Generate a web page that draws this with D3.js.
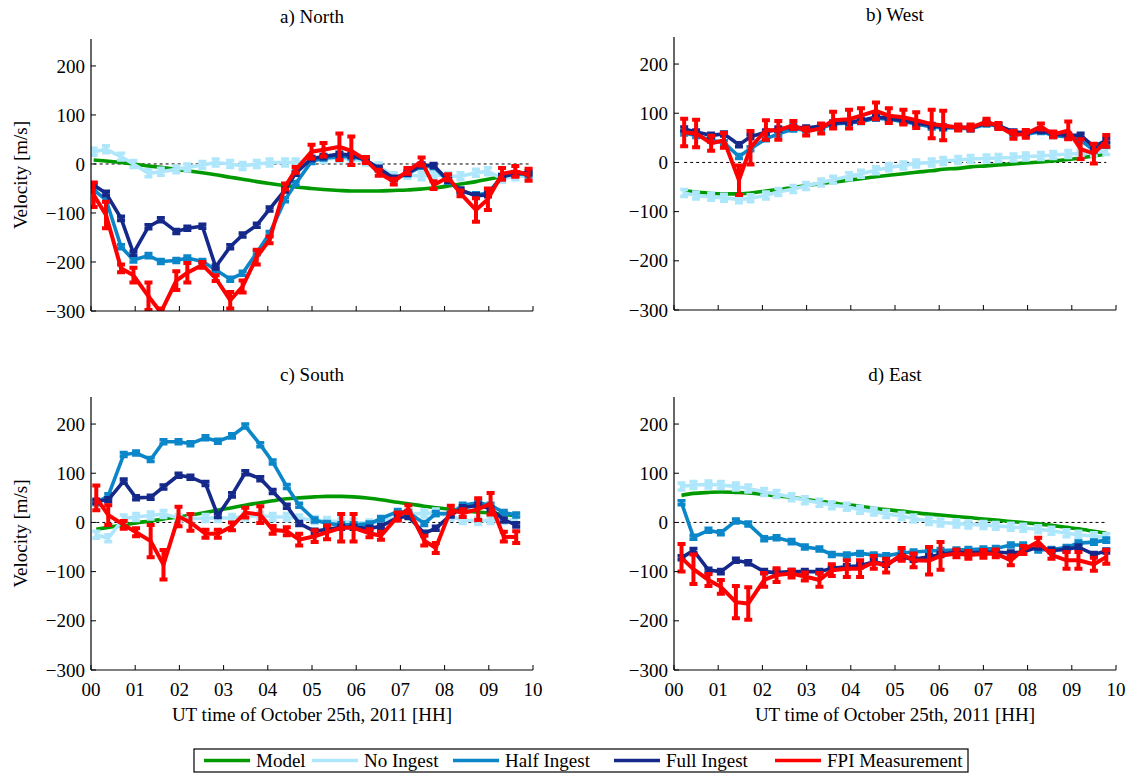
<!DOCTYPE html>
<html>
<head>
<meta charset="utf-8">
<script src="https://cdn.jsdelivr.net/npm/d3@7"></script>
<style>
  html, body { margin: 0; padding: 0; background: #fff; }
  svg text { font-family: "Liberation Serif", "Times New Roman", Times, serif; fill: #000; }
</style>
</head>
<body>
<svg id="chart" width="1137" height="774" font-family="Liberation Serif, Times New Roman, serif"></svg>
<script>
// ---- Series names and colours ----
const seriesNames = ["Model", "No Ingest", "Half Ingest", "Full Ingest", "FPI Measurement"];
const seriesColors = ["#009a00", "#aee6fb", "#0a86c9", "#15298a", "#ff0000"];

// ---- Axis ticks ----
const yTicks = [-300, -200, -100, 0, 100, 200];
const xTicks = [0, 1, 2, 3, 4, 5, 6, 7, 8, 9, 10];
const xTickLabels = ["00", "01", "02", "03", "04", "05", "06", "07", "08", "09", "10"];

// ---- Panel titles ----
const panelTitles = ["a) North", "b) West", "c) South", "d) East"];

// ---- a) North ----
const northTime = [0.06, 0.34, 0.68, 0.96, 1.30, 1.58, 1.93, 2.18, 2.52, 2.82, 3.15, 3.43, 3.75, 4.04, 4.39, 4.63, 4.99, 5.26, 5.62, 5.89, 6.22, 6.51, 6.85, 7.16, 7.48, 7.75, 8.08, 8.36, 8.71, 8.98, 9.30, 9.60, 9.90];
const northModel = [8, 6, 3, 0, -4, -7, -11, -14, -18, -22, -27, -31, -36, -40, -44, -47, -50, -52, -54, -55, -55, -55, -54, -53, -51, -49, -45, -41, -36, -31, -26, -22, -18];
const northNoIngest = [25, 30, 15, 0, -19, -16, -11, -7, -2, 3, 0, -4, 0, 3, 3, 3, 8, 10, 12, 10, 5, -5, -25, -22, -25, -22, -25, -25, -18, -15, -30, -25, -25];
const northHalf = [-53, -73, -169, -196, -187, -199, -197, -192, -199, -216, -235, -223, -181, -142, -73, -40, 5, 12, 15, 15, 8, -10, -30, -20, -5, -5, -35, -55, -63, -60, -25, -20, -22];
const northFull = [-43, -60, -111, -182, -128, -114, -138, -131, -127, -210, -169, -145, -125, -92, -53, -19, 11, 15, 20, 18, 8, -9, -29, -19, -2, -3, -33, -53, -65, -63, -26, -20, -18];
const northFpi = [-63, -104, -213, -227, -270, -303, -238, -222, -206, -233, -278, -250, -190, -155, -46, -12, 25, 29, 35, 27, 8, -18, -36, -14, 5, -43, -27, -60, -94, -72, -20, -15, -22];
const northFpiErr = [25, 27, 8, 15, 28, 8, 19, 20, 6, 6, 17, 12, 15, 7, 6, 6, 14, 14, 27, 29, 6, 6, 6, 6, 8, 8, 6, 6, 24, 22, 12, 11, 12];

// ---- b) West ----
const westTime = [0.23, 0.50, 0.84, 1.13, 1.47, 1.73, 2.08, 2.36, 2.70, 2.99, 3.33, 3.60, 3.96, 4.23, 4.57, 4.86, 5.19, 5.48, 5.83, 6.09, 6.43, 6.71, 7.07, 7.34, 7.68, 7.96, 8.30, 8.58, 8.92, 9.20, 9.50, 9.78];
const westModel = [-57, -60, -63, -64, -64, -62, -58, -55, -51, -47, -43, -40, -36, -33, -29, -26, -23, -20, -17, -14, -12, -9, -7, -5, -3, -1, 1, 3, 6, 9, 13, 17];
const westNoIngest = [-62, -67, -70, -72, -75, -73, -67, -60, -54, -48, -41, -35, -28, -23, -16, -10, -6, -2, 0, 3, 5, 7, 8, 9, 10, 12, 13, 15, 17, 18, 20, 23];
const westHalf = [60, 55, 45, 40, 12, 28, 48, 58, 68, 66, 70, 78, 80, 83, 90, 88, 83, 78, 72, 70, 70, 68, 78, 73, 58, 57, 63, 55, 52, 45, 25, 35];
const westFull = [68, 62, 55, 58, 36, 52, 62, 68, 72, 70, 74, 80, 82, 85, 92, 90, 85, 80, 75, 72, 72, 70, 80, 75, 62, 60, 65, 58, 55, 55, 32, 45];
const westFpi = [61, 59, 39, 45, -36, 30, 66, 65, 76, 63, 69, 86, 88, 95, 105, 95, 92, 86, 78, 75, 71, 71, 83, 74, 56, 58, 73, 57, 65, 27, 18, 44];
const westFpiErr = [28, 28, 15, 15, 30, 34, 20, 19, 8, 8, 10, 17, 19, 15, 17, 15, 15, 16, 29, 30, 6, 6, 6, 6, 8, 8, 6, 6, 18, 20, 20, 12];

// ---- c) South ----
const southTime = [0.12, 0.39, 0.74, 1.02, 1.35, 1.64, 1.98, 2.25, 2.59, 2.87, 3.19, 3.49, 3.83, 4.11, 4.43, 4.71, 5.06, 5.34, 5.66, 5.94, 6.30, 6.56, 6.94, 7.18, 7.54, 7.80, 8.14, 8.41, 8.76, 9.04, 9.34, 9.62];
const southModel = [-14, -10, -5, -1, 3, 7, 11, 15, 20, 25, 30, 35, 40, 44, 48, 50, 52, 53, 53, 52, 49, 46, 41, 38, 33, 30, 27, 24, 21, 19, 16, 14];
const southNoIngest = [-25, -32, 8, 11, 14, 17, 9, 7, 9, 9, 9, 12, 14, 11, 11, 8, 5, 3, 2, 0, -2, 2, 10, 18, 18, 20, 12, 5, 3, 5, 5, 5];
const southHalf = [40, 54, 138, 141, 128, 164, 164, 160, 172, 165, 176, 196, 158, 123, 73, 35, 5, -2, -5, -5, -3, 8, 22, 20, -2, 18, 18, 35, 40, 35, 20, 15];
const southFull = [43, 46, 84, 50, 51, 72, 96, 92, 79, 14, 56, 101, 89, 63, 33, -2, -18, -14, -10, -10, -12, -8, 10, 12, -22, -12, 15, 30, 35, 28, 5, -5];
const southFpi = [50, 15, -5, -20, -38, -86, 12, 0, -23, -23, -8, 20, 16, -15, -18, -35, -28, -20, -11, -11, -22, -27, 12, 27, -37, -52, 26, 19, 27, 38, -29, -30];
const southFpiErr = [25, 20, 8, 8, 33, 30, 20, 17, 8, 8, 8, 10, 17, 8, 8, 12, 12, 14, 28, 28, 8, 8, 8, 8, 10, 10, 8, 8, 22, 22, 10, 12];

// ---- d) East ----
const eastTime = [0.17, 0.44, 0.78, 1.06, 1.40, 1.68, 2.04, 2.32, 2.66, 2.96, 3.29, 3.57, 3.91, 4.21, 4.52, 4.80, 5.15, 5.42, 5.77, 6.03, 6.39, 6.66, 7.00, 7.28, 7.62, 7.90, 8.24, 8.54, 8.88, 9.15, 9.50, 9.78];
const eastModel = [55, 59, 61, 62, 61, 60, 57, 54, 51, 47, 43, 40, 36, 33, 29, 26, 23, 20, 17, 15, 12, 10, 7, 5, 2, 0, -3, -6, -10, -13, -18, -22];
const eastNoIngest = [73, 76, 77, 76, 73, 69, 62, 58, 51, 45, 40, 35, 32, 26, 22, 17, 13, 8, 3, 0, -2, -4, -5, -7, -9, -11, -14, -17, -22, -25, -28, -30];
const eastHalf = [40, -30, -16, -21, 3, -3, -33, -31, -39, -50, -54, -65, -66, -63, -66, -68, -62, -60, -58, -57, -56, -55, -54, -53, -46, -46, -56, -55, -51, -42, -40, -36];
const eastFull = [-72, -57, -97, -100, -77, -82, -100, -102, -100, -100, -100, -93, -90, -88, -80, -85, -70, -75, -70, -65, -60, -62, -60, -60, -62, -60, -50, -57, -55, -50, -65, -58];
const eastFpi = [-72, -95, -117, -131, -162, -165, -117, -107, -104, -110, -117, -97, -94, -94, -81, -88, -65, -77, -78, -68, -63, -66, -64, -63, -77, -56, -39, -66, -77, -77, -85, -70];
const eastFpiErr = [28, 30, 12, 14, 33, 33, 14, 14, 8, 8, 14, 12, 17, 17, 13, 14, 13, 14, 28, 28, 8, 8, 8, 8, 10, 8, 8, 8, 17, 17, 13, 14];

// Half-length of the error bars on the assimilated (ingest) runs
const ingestErr = [7, 4, 4];

const panelData = [
  { time: northTime, model: northModel, runs: [northNoIngest, northHalf, northFull], fpi: northFpi, err: northFpiErr },
  { time: westTime,  model: westModel,  runs: [westNoIngest,  westHalf,  westFull],  fpi: westFpi,  err: westFpiErr },
  { time: southTime, model: southModel, runs: [southNoIngest, southHalf, southFull], fpi: southFpi, err: southFpiErr },
  { time: eastTime,  model: eastModel,  runs: [eastNoIngest,  eastHalf,  eastFull],  fpi: eastFpi,  err: eastFpiErr }
];

// ---- Layout ----
const boxes = [
  { left: 91,  right: 533,  top: 39,  bottom: 311 },
  { left: 674, right: 1116, top: 37,  bottom: 310 },
  { left: 91,  right: 533,  top: 397, bottom: 670 },
  { left: 674, right: 1116, top: 397, bottom: 670 }
];
const yDomain = [-300, 255];
const fontFamily = "Liberation Serif, Times New Roman, serif";
const fontSize = 19;
const capHalf = 4;

const svg = d3.select("#chart");
const fmt = d3.format("d");

function label(sel) {
  return sel.attr("font-family", fontFamily).attr("font-size", fontSize).attr("fill", "#000");
}

panelData.forEach((p, i) => {
  const b = boxes[i];
  const x = d3.scaleLinear().domain([0, 10]).range([b.left, b.right]);
  const y = d3.scaleLinear().domain(yDomain).range([b.bottom, b.top]);
  const g = svg.append("g");

  const clipId = "clip" + i;
  g.append("clipPath").attr("id", clipId)
    .append("rect")
    .attr("x", b.left).attr("y", b.top)
    .attr("width", b.right - b.left).attr("height", b.bottom - b.top);

  const plot = g.append("g").attr("clip-path", `url(#${clipId})`);

  // zero reference
  plot.append("line")
    .attr("x1", x(p.time[0])).attr("x2", x(p.time[p.time.length - 1]))
    .attr("y1", y(0)).attr("y2", y(0))
    .attr("stroke", "#000").attr("stroke-width", 1)
    .attr("stroke-dasharray", "3,3");

  const line = d3.line().x(d => x(d[0])).y(d => y(d[1]));

  // model curve
  plot.append("path")
    .datum(p.time.map((t, k) => [t, p.model[k]]))
    .attr("d", d3.line().curve(d3.curveMonotoneX).x(d => x(d[0])).y(d => y(d[1])))
    .attr("fill", "none").attr("stroke", seriesColors[0])
    .attr("stroke-width", 3.6).attr("stroke-linejoin", "round");

  function errorSeries(values, errs, color, width) {
    const pts = p.time.map((t, k) => [t, values[k], errs[k]]);
    plot.append("path").datum(pts)
      .attr("d", line)
      .attr("fill", "none").attr("stroke", color)
      .attr("stroke-width", width).attr("stroke-linejoin", "miter");
    const eb = plot.append("g").attr("stroke", color).attr("stroke-width", width)
      .attr("fill", "none");
    eb.selectAll("path").data(pts).join("path")
      .attr("d", d => {
        const cx = x(d[0]), y1 = y(d[1] + d[2]), y2 = y(d[1] - d[2]);
        return `M${cx},${y1}V${y2}M${cx - capHalf},${y1}H${cx + capHalf}M${cx - capHalf},${y2}H${cx + capHalf}`;
      });
  }

  p.runs.forEach((vals, r) => {
    errorSeries(vals, vals.map(() => ingestErr[r]), seriesColors[r + 1], 3.6);
  });
  errorSeries(p.fpi, p.err, seriesColors[4], 4);

  // axes (left and bottom spines, ticks pointing inward)
  g.append("line").attr("x1", b.left).attr("x2", b.left).attr("y1", b.top).attr("y2", b.bottom)
    .attr("stroke", "#000").attr("stroke-width", 1.2);
  g.append("line").attr("x1", b.left).attr("x2", b.right).attr("y1", b.bottom).attr("y2", b.bottom)
    .attr("stroke", "#000").attr("stroke-width", 1.2);

  g.selectAll(".yt").data(yTicks).join("line")
    .attr("x1", b.left).attr("x2", b.left + 5)
    .attr("y1", d => y(d)).attr("y2", d => y(d))
    .attr("stroke", "#000").attr("stroke-width", 1);
  g.selectAll(".yl").data(yTicks).join("text")
    .call(label)
    .attr("x", b.left - 6).attr("y", d => y(d)).attr("dy", "0.35em")
    .attr("text-anchor", "end")
    .text(d => fmt(d));

  g.selectAll(".xt").data(xTicks).join("line")
    .attr("x1", d => x(d)).attr("x2", d => x(d))
    .attr("y1", b.bottom).attr("y2", b.bottom - 5)
    .attr("stroke", "#000").attr("stroke-width", 1);

  const cx = (b.left + b.right) / 2;
  g.append("text").call(label)
    .attr("x", cx).attr("y", b.top - 16)
    .attr("text-anchor", "middle")
    .text(panelTitles[i]);

  if (i >= 2) {
    g.selectAll(".xl").data(xTicks).join("text")
      .call(label)
      .attr("x", d => x(d)).attr("y", b.bottom + 26)
      .attr("text-anchor", "middle")
      .text((d, k) => xTickLabels[k]);
    g.append("text").call(label)
      .attr("x", cx).attr("y", b.bottom + 51)
      .attr("text-anchor", "middle")
      .text("UT time of October 25th, 2011 [HH]");
  }
  if (i % 2 === 0) {
    const cy = (b.top + b.bottom) / 2;
    g.append("text").call(label)
      .attr("transform", `translate(27,${cy}) rotate(-90)`)
      .attr("text-anchor", "middle")
      .text("Velocity [m/s]");
  }
});

// ---- Legend ----
const legend = svg.append("g");
const legBox = { x: 194, y: 749, w: 774, h: 23 };
legend.append("rect")
  .attr("x", legBox.x).attr("y", legBox.y).attr("width", legBox.w).attr("height", legBox.h)
  .attr("fill", "#fff").attr("stroke", "#000").attr("stroke-width", 1.2);
const legX = [204, 312, 453, 614, 775];
seriesNames.forEach((name, k) => {
  const lx = legX[k];
  const ly = legBox.y + legBox.h / 2;
  legend.append("line").attr("x1", lx).attr("x2", lx + 46).attr("y1", ly).attr("y2", ly)
    .attr("stroke", seriesColors[k]).attr("stroke-width", 3.6);
  legend.append("text").call(label)
    .attr("x", lx + 52).attr("y", ly).attr("dy", "0.35em")
    .text(name);
});
</script>
</body>
</html>
